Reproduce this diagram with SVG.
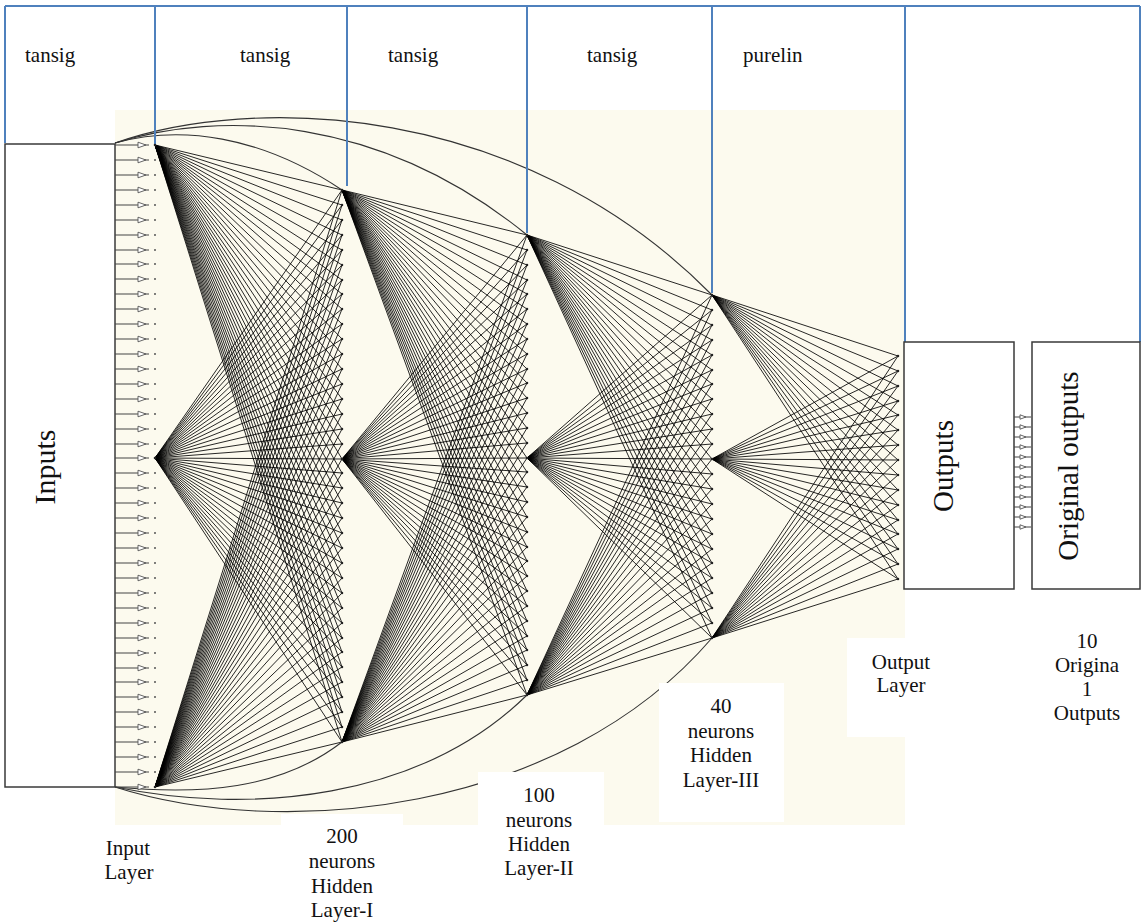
<svg xmlns="http://www.w3.org/2000/svg" width="1141" height="923" viewBox="0 0 1141 923">
<style>
.t{font-family:"Liberation Serif","Times New Roman",serif;font-size:21px;fill:#111}
.c{text-anchor:middle}
.big{font-size:30px}
.mid{font-size:29px}
.blue{stroke:#4F81BD;stroke-width:2;fill:none}
.box{fill:#fff;stroke:#3a3a3a;stroke-width:1.5}
.fan{fill:none;stroke:#000;stroke-width:0.85}
.arc{fill:none;stroke:#333;stroke-width:1.1}
.dots{fill:none;stroke:#222;stroke-width:2.6;stroke-linecap:round}
.sdots{fill:none;stroke:#555;stroke-width:2;stroke-linecap:round}
.ar{stroke:#444;stroke-width:1;fill:none}
.tri{fill:#fff;stroke:#555;stroke-width:0.9}
</style>
<defs>
<g id="ia"><path class="ar" d="M115 0H149"/><path class="tri" d="M138 -2.8L146 0L138 2.8Z"/></g>
<g id="oa"><path class="ar" d="M1014 0H1031"/><path class="tri" d="M1020 -2.2L1026 0L1020 2.2Z"/></g>
</defs>
<rect width="1141" height="923" fill="#fff"/>
<rect x="115" y="110" width="790" height="715" fill="#FCFAEE"/>

<g id="connectors">
<path class="fan" d="M155 145L342 190M155 145L342 205M155 145L342 220M155 145L342 235M155 145L342 250M155 145L342 265M155 145L342 280M155 145L342 294M155 145L342 309M155 145L342 324M155 145L342 339M155 145L342 354M155 145L342 369M155 145L342 384M155 145L342 399M155 145L342 414M155 145L342 429M155 145L342 444M155 145L342 459M155 145L342 473M155 145L342 488M155 145L342 503M155 145L342 518M155 145L342 533M155 145L342 548M155 145L342 563M155 145L342 578M155 145L342 593M155 145L342 608M155 145L342 623M155 145L342 638M155 145L342 652M155 145L342 667M155 145L342 682M155 145L342 697M155 145L342 712M155 145L342 727M155 145L342 742"/>
<path class="fan" d="M155 458L342 190M155 458L342 205M155 458L342 220M155 458L342 235M155 458L342 250M155 458L342 265M155 458L342 280M155 458L342 294M155 458L342 309M155 458L342 324M155 458L342 339M155 458L342 354M155 458L342 369M155 458L342 384M155 458L342 399M155 458L342 414M155 458L342 429M155 458L342 444M155 458L342 459M155 458L342 473M155 458L342 488M155 458L342 503M155 458L342 518M155 458L342 533M155 458L342 548M155 458L342 563M155 458L342 578M155 458L342 593M155 458L342 608M155 458L342 623M155 458L342 638M155 458L342 652M155 458L342 667M155 458L342 682M155 458L342 697M155 458L342 712M155 458L342 727M155 458L342 742"/>
<path class="fan" d="M155 787L342 190M155 787L342 205M155 787L342 220M155 787L342 235M155 787L342 250M155 787L342 265M155 787L342 280M155 787L342 294M155 787L342 309M155 787L342 324M155 787L342 339M155 787L342 354M155 787L342 369M155 787L342 384M155 787L342 399M155 787L342 414M155 787L342 429M155 787L342 444M155 787L342 459M155 787L342 473M155 787L342 488M155 787L342 503M155 787L342 518M155 787L342 533M155 787L342 548M155 787L342 563M155 787L342 578M155 787L342 593M155 787L342 608M155 787L342 623M155 787L342 638M155 787L342 652M155 787L342 667M155 787L342 682M155 787L342 697M155 787L342 712M155 787L342 727M155 787L342 742"/>
<path class="fan" d="M342 190L527 235M342 190L527 250M342 190L527 265M342 190L527 280M342 190L527 294M342 190L527 309M342 190L527 324M342 190L527 339M342 190L527 354M342 190L527 369M342 190L527 383M342 190L527 398M342 190L527 413M342 190L527 428M342 190L527 443M342 190L527 458M342 190L527 472M342 190L527 487M342 190L527 502M342 190L527 517M342 190L527 532M342 190L527 547M342 190L527 561M342 190L527 576M342 190L527 591M342 190L527 606M342 190L527 621M342 190L527 636M342 190L527 650M342 190L527 665M342 190L527 680M342 190L527 695"/>
<path class="fan" d="M342 459L527 235M342 459L527 250M342 459L527 265M342 459L527 280M342 459L527 294M342 459L527 309M342 459L527 324M342 459L527 339M342 459L527 354M342 459L527 369M342 459L527 383M342 459L527 398M342 459L527 413M342 459L527 428M342 459L527 443M342 459L527 458M342 459L527 472M342 459L527 487M342 459L527 502M342 459L527 517M342 459L527 532M342 459L527 547M342 459L527 561M342 459L527 576M342 459L527 591M342 459L527 606M342 459L527 621M342 459L527 636M342 459L527 650M342 459L527 665M342 459L527 680M342 459L527 695"/>
<path class="fan" d="M342 742L527 235M342 742L527 250M342 742L527 265M342 742L527 280M342 742L527 294M342 742L527 309M342 742L527 324M342 742L527 339M342 742L527 354M342 742L527 369M342 742L527 383M342 742L527 398M342 742L527 413M342 742L527 428M342 742L527 443M342 742L527 458M342 742L527 472M342 742L527 487M342 742L527 502M342 742L527 517M342 742L527 532M342 742L527 547M342 742L527 561M342 742L527 576M342 742L527 591M342 742L527 606M342 742L527 621M342 742L527 636M342 742L527 650M342 742L527 665M342 742L527 680M342 742L527 695"/>
<path class="fan" d="M527 235L712 295M527 235L712 310M527 235L712 325M527 235L712 340M527 235L712 355M527 235L712 370M527 235L712 384M527 235L712 399M527 235L712 414M527 235L712 429M527 235L712 444M527 235L712 459M527 235L712 474M527 235L712 489M527 235L712 504M527 235L712 519M527 235L712 534M527 235L712 549M527 235L712 563M527 235L712 578M527 235L712 593M527 235L712 608M527 235L712 623M527 235L712 638"/>
<path class="fan" d="M527 458L712 295M527 458L712 310M527 458L712 325M527 458L712 340M527 458L712 355M527 458L712 370M527 458L712 384M527 458L712 399M527 458L712 414M527 458L712 429M527 458L712 444M527 458L712 459M527 458L712 474M527 458L712 489M527 458L712 504M527 458L712 519M527 458L712 534M527 458L712 549M527 458L712 563M527 458L712 578M527 458L712 593M527 458L712 608M527 458L712 623M527 458L712 638"/>
<path class="fan" d="M527 695L712 295M527 695L712 310M527 695L712 325M527 695L712 340M527 695L712 355M527 695L712 370M527 695L712 384M527 695L712 399M527 695L712 414M527 695L712 429M527 695L712 444M527 695L712 459M527 695L712 474M527 695L712 489M527 695L712 504M527 695L712 519M527 695L712 534M527 695L712 549M527 695L712 563M527 695L712 578M527 695L712 593M527 695L712 608M527 695L712 623M527 695L712 638"/>
<path class="fan" d="M712 295L898 356M712 295L898 371M712 295L898 386M712 295L898 401M712 295L898 415M712 295L898 430M712 295L898 445M712 295L898 460M712 295L898 475M712 295L898 490M712 295L898 505M712 295L898 520M712 295L898 534M712 295L898 549M712 295L898 564M712 295L898 579"/>
<path class="fan" d="M712 459L898 356M712 459L898 371M712 459L898 386M712 459L898 401M712 459L898 415M712 459L898 430M712 459L898 445M712 459L898 460M712 459L898 475M712 459L898 490M712 459L898 505M712 459L898 520M712 459L898 534M712 459L898 549M712 459L898 564M712 459L898 579"/>
<path class="fan" d="M712 638L898 356M712 638L898 371M712 638L898 386M712 638L898 401M712 638L898 415M712 638L898 430M712 638L898 445M712 638L898 460M712 638L898 475M712 638L898 490M712 638L898 505M712 638L898 520M712 638L898 534M712 638L898 549M712 638L898 564M712 638L898 579"/>
<path class="arc" d="M115 143C180 125 260 135 342 190"/>
<path class="arc" d="M115 143C220 110 380 115 527 235"/>
<path class="arc" d="M115 143C250 95 520 100 712 295"/>
<path class="arc" d="M115 787C200 795 280 790 342 742"/>
<path class="arc" d="M115 787C250 815 420 800 527 695"/>
<path class="arc" d="M115 787C280 840 560 815 712 638"/>
</g>

<g id="label-backgrounds" fill="#fff">
<rect x="281" y="814" width="122" height="109"/>
<rect x="478" y="772" width="126" height="120"/>
<rect x="659" y="683" width="125" height="139"/>
<rect x="847" y="638" width="60" height="99"/>
</g>

<g id="activation-bands">
<path class="blue" d="M5 6H1140M5 6V143M155 6V146M347 6V186M527 6V233M712 6V293M905 6V342M1140 6V342"/>
<text class="t" x="25" y="62">tansig</text>
<text class="t" x="240" y="62">tansig</text>
<text class="t" x="388" y="62">tansig</text>
<text class="t" x="587" y="62">tansig</text>
<text class="t" x="743" y="62">purelin</text>
</g>

<g id="inputs">
<rect class="box" x="5" y="144" width="110" height="643"/>
<text class="t big c" transform="translate(55 467) rotate(-90)">Inputs</text>
</g>

<g id="input-layer">
<use href="#ia" y="145"/><use href="#ia" y="160"/><use href="#ia" y="175"/><use href="#ia" y="190"/><use href="#ia" y="205"/><use href="#ia" y="220"/><use href="#ia" y="235"/><use href="#ia" y="250"/><use href="#ia" y="264"/><use href="#ia" y="279"/><use href="#ia" y="294"/><use href="#ia" y="309"/><use href="#ia" y="324"/><use href="#ia" y="339"/><use href="#ia" y="354"/><use href="#ia" y="369"/><use href="#ia" y="384"/><use href="#ia" y="399"/><use href="#ia" y="414"/><use href="#ia" y="429"/><use href="#ia" y="444"/><use href="#ia" y="458"/><use href="#ia" y="473"/><use href="#ia" y="488"/><use href="#ia" y="503"/><use href="#ia" y="518"/><use href="#ia" y="533"/><use href="#ia" y="548"/><use href="#ia" y="563"/><use href="#ia" y="578"/><use href="#ia" y="593"/><use href="#ia" y="608"/><use href="#ia" y="623"/><use href="#ia" y="638"/><use href="#ia" y="653"/><use href="#ia" y="668"/><use href="#ia" y="682"/><use href="#ia" y="697"/><use href="#ia" y="712"/><use href="#ia" y="727"/><use href="#ia" y="742"/><use href="#ia" y="757"/><use href="#ia" y="772"/><use href="#ia" y="787"/>
<path class="sdots" d="M155 160h0M155 175h0M155 190h0M155 205h0M155 220h0M155 235h0M155 250h0M155 264h0M155 279h0M155 294h0M155 309h0M155 324h0M155 339h0M155 354h0M155 369h0M155 384h0M155 399h0M155 414h0M155 429h0M155 444h0M155 473h0M155 488h0M155 503h0M155 518h0M155 533h0M155 548h0M155 563h0M155 578h0M155 593h0M155 608h0M155 623h0M155 638h0M155 653h0M155 668h0M155 682h0M155 697h0M155 712h0M155 727h0M155 742h0M155 757h0M155 772h0"/>
<path class="dots" d="M155 145h0M155 458h0M155 787h0"/>
<text class="t c" x="128" y="855">Input</text>
<text class="t c" x="129" y="879">Layer</text>
</g>

<g id="hidden-layer-1">
<path class="dots" d="M342 190h0M342 205h0M342 220h0M342 235h0M342 250h0M342 265h0M342 280h0M342 294h0M342 309h0M342 324h0M342 339h0M342 354h0M342 369h0M342 384h0M342 399h0M342 414h0M342 429h0M342 444h0M342 459h0M342 473h0M342 488h0M342 503h0M342 518h0M342 533h0M342 548h0M342 563h0M342 578h0M342 593h0M342 608h0M342 623h0M342 638h0M342 652h0M342 667h0M342 682h0M342 697h0M342 712h0M342 727h0M342 742h0"/>
<text class="t c" x="342" y="843">200</text>
<text class="t c" x="342" y="868">neurons</text>
<text class="t c" x="342" y="893">Hidden</text>
<text class="t c" x="342" y="917">Layer-I</text>
</g>

<g id="hidden-layer-2">
<path class="dots" d="M527 235h0M527 250h0M527 265h0M527 280h0M527 294h0M527 309h0M527 324h0M527 339h0M527 354h0M527 369h0M527 383h0M527 398h0M527 413h0M527 428h0M527 443h0M527 458h0M527 472h0M527 487h0M527 502h0M527 517h0M527 532h0M527 547h0M527 561h0M527 576h0M527 591h0M527 606h0M527 621h0M527 636h0M527 650h0M527 665h0M527 680h0M527 695h0"/>
<text class="t c" x="539" y="802">100</text>
<text class="t c" x="539" y="827">neurons</text>
<text class="t c" x="539" y="851">Hidden</text>
<text class="t c" x="539" y="875">Layer-II</text>
</g>

<g id="hidden-layer-3">
<path class="dots" d="M712 295h0M712 310h0M712 325h0M712 340h0M712 355h0M712 370h0M712 384h0M712 399h0M712 414h0M712 429h0M712 444h0M712 459h0M712 474h0M712 489h0M712 504h0M712 519h0M712 534h0M712 549h0M712 563h0M712 578h0M712 593h0M712 608h0M712 623h0M712 638h0"/>
<text class="t c" x="721" y="713">40</text>
<text class="t c" x="721" y="738">neurons</text>
<text class="t c" x="721" y="762">Hidden</text>
<text class="t c" x="721" y="787">Layer-III</text>
</g>

<g id="output-layer">
<path class="dots" d="M898 356h0M898 371h0M898 386h0M898 401h0M898 415h0M898 430h0M898 445h0M898 460h0M898 475h0M898 490h0M898 505h0M898 520h0M898 534h0M898 549h0M898 564h0M898 579h0"/>
<text class="t c" x="901" y="669">Output</text>
<text class="t c" x="901" y="692">Layer</text>
</g>

<g id="outputs">
<rect class="box" x="904" y="342" width="110" height="247"/>
<text class="t mid c" transform="translate(953 466) rotate(-90)">Outputs</text>
</g>

<g id="output-links">
<use href="#oa" y="417"/><use href="#oa" y="427"/><use href="#oa" y="437"/><use href="#oa" y="447"/><use href="#oa" y="457"/><use href="#oa" y="467"/><use href="#oa" y="477"/><use href="#oa" y="487"/><use href="#oa" y="497"/><use href="#oa" y="507"/><use href="#oa" y="517"/><use href="#oa" y="527"/>
</g>

<g id="original-outputs">
<rect class="box" x="1032" y="342" width="108" height="247"/>
<text class="t mid c" transform="translate(1078 466) rotate(-90)">Original outputs</text>
<text class="t c" x="1087" y="648">10</text>
<text class="t c" x="1087" y="672">Origina</text>
<text class="t c" x="1087" y="696">1</text>
<text class="t c" x="1087" y="720">Outputs</text>
</g>
</svg>
